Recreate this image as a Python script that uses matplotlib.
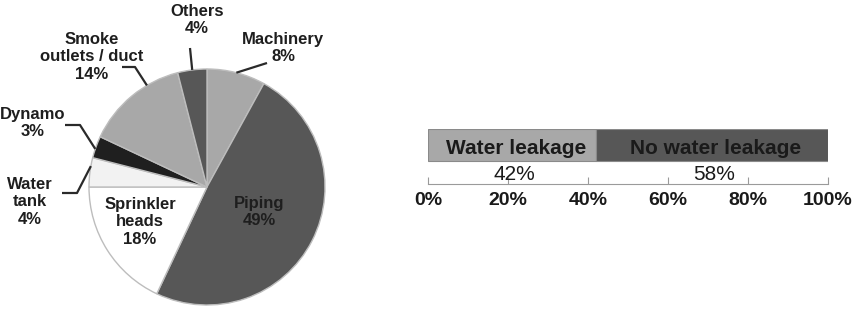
import numpy as np
import matplotlib
matplotlib.use("Agg")
import matplotlib.pyplot as plt

plt.rcParams['font.family'] = ['Liberation Sans', 'DejaVu Sans']

# pie data (clockwise from 12 o'clock)
parts = ["Machinery", "Piping", "Sprinkler\nheads", "Water\ntank", "Dynamo",
         "Smoke\noutlets / duct", "Others"]
shares = [8, 49, 18, 4, 3, 14, 4]
colors = ["#a8a8a8", "#575757", "#ffffff", "#f2f2f2", "#1f1f1f", "#a8a8a8", "#575757"]

# bar data
bar_labels = ["Water leakage", "No water leakage"]
bar_vals = [42, 58]
bar_colors = ["#a8a8a8", "#575757"]
ticks = [0, 20, 40, 60, 80, 100]

W, H = 858, 309
fig = plt.figure(figsize=(W / 100, H / 100), dpi=100)

# ---- pie, axes in pixel units (y flipped so layout reads like the image)
ax = fig.add_axes([0, 0, 400 / W, 1])
cx, cy, R = 207, 187, 118
fy = lambda y: H - y
wedges, _ = ax.pie(shares, colors=colors, startangle=90, counterclock=False,
                   center=(cx, fy(cy)), radius=R,
                   wedgeprops=dict(edgecolor="#bdbdbd", linewidth=1.0))
ax.set_xlim(0, 400); ax.set_ylim(0, H)
ax.set_aspect("equal"); ax.axis("off")

txt = dict(fontsize=12, fontweight="bold", color="#1e1e1e",
           ha="center", va="center", linespacing=1.2)
# label block centres (px), leader start, elbow x, angle nudge into wedge
layout = {
    "Machinery": ((283, 48), (267, 63), None, 0),
    "Piping": ((259, 212), None, None, 0),
    "Sprinkler\nheads": ((140, 222), None, None, 0),
    "Water\ntank": ((30, 202), (62, 193), 77, -3),
    "Dynamo": ((33, 123), (65, 125), 80, 1),
    "Smoke\noutlets / duct": ((92, 57), (122, 67), 135, -9),
    "Others": ((197, 20), (190, 48), None, 0),
}
for w, name, s in zip(wedges, parts, shares):
    (tx, ty), start, elbow, nudge = layout[name]
    ax.text(tx, fy(ty), f"{name}\n{s}%", **txt)
    if start is None:
        continue
    ang = np.deg2rad((w.theta1 + w.theta2) / 2 + nudge)
    ex, ey = cx + R * np.cos(ang), fy(cy) + R * np.sin(ang)
    xs, ys = [start[0]], [fy(start[1])]
    if elbow is not None:
        xs.append(elbow); ys.append(fy(start[1]))
    xs.append(ex); ys.append(ey)
    ax.plot(xs, ys, color="#2a2a2a", lw=1.6, solid_capstyle="butt")

# ---- stacked bar
bx = fig.add_axes([428 / W, (H - 184) / H, 400 / W, 55 / H])
left = 0
for lab, v, c in zip(bar_labels, bar_vals, bar_colors):
    bx.barh(39, v, left=left, height=32, color=c, edgecolor="#8a8a8a", linewidth=0.8)
    bx.text(left + v / 2 + 1, 36, lab, fontsize=15, fontweight="bold",
            color="#1a1a1a", ha="center", va="center")
    bx.text(left + v / 2 + 0.5, 9, f"{v}%", fontsize=15, color="#1a1a1a",
            ha="center", va="center")
    left += v
bx.set_xlim(0, 100); bx.set_ylim(0, 55)
for sp in ["top", "right", "left"]:
    bx.spines[sp].set_visible(False)
bx.spines["bottom"].set_color("#9a9a9a")
bx.set_yticks([])
bx.set_xticks(ticks)
bx.set_xticklabels([f"{t}%" for t in ticks], fontsize=14, fontweight="bold",
                   color="#1a1a1a")
bx.tick_params(axis="x", direction="in", length=5, color="#9a9a9a", pad=6)
bx.patch.set_visible(False)

fig.savefig("out.png", dpi=100)
